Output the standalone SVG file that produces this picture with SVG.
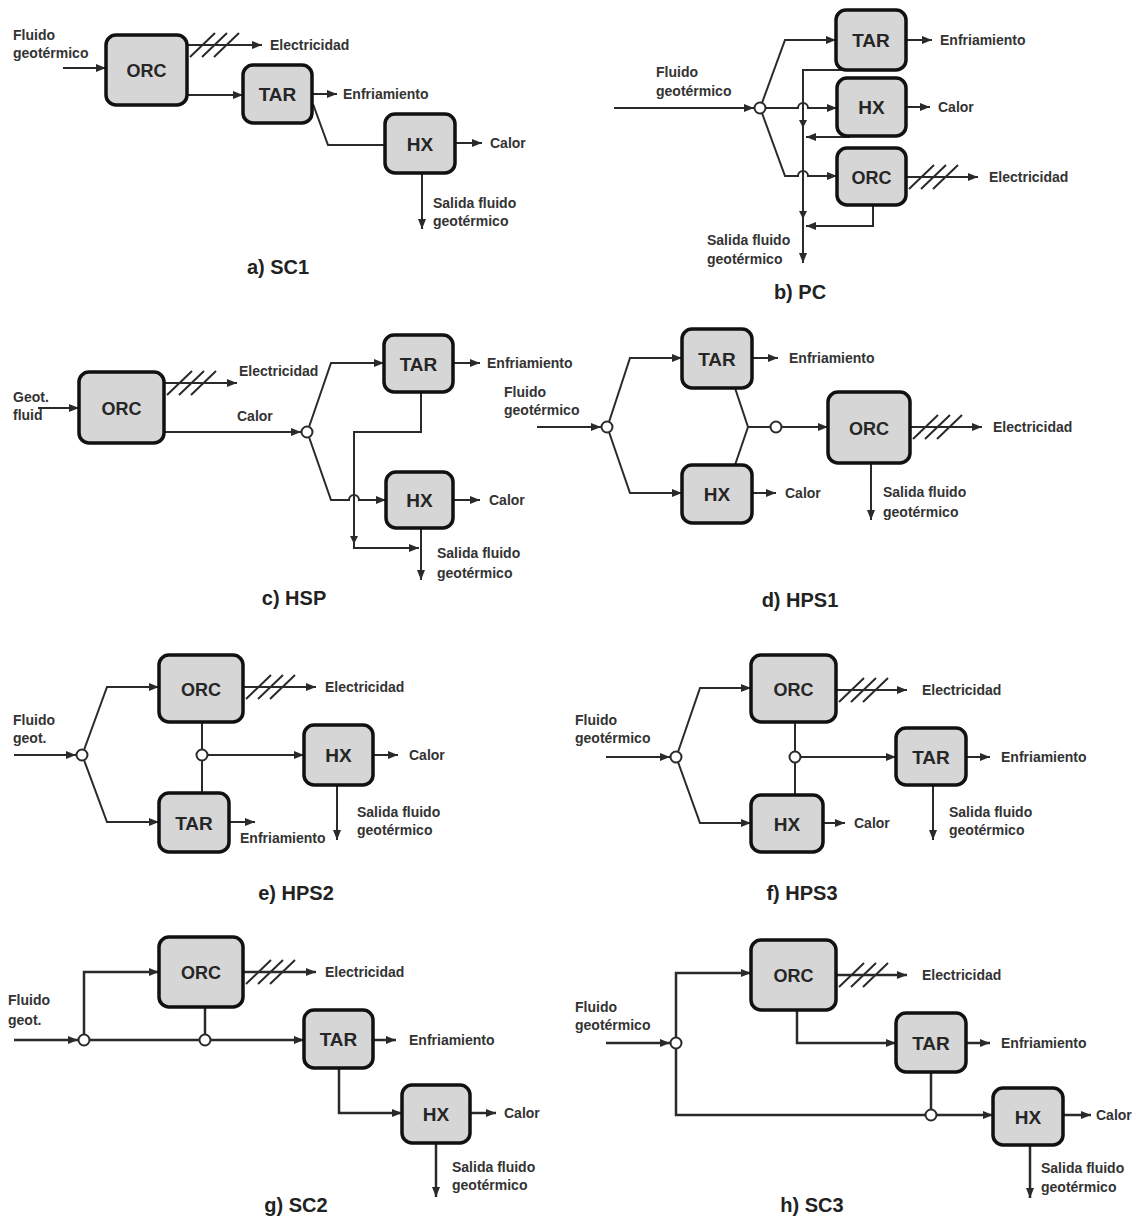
<svg xmlns="http://www.w3.org/2000/svg" xmlns:xlink="http://www.w3.org/1999/xlink" width="1136" height="1220" viewBox="0 0 1136 1220">
<style>
.box{fill:#d6d6d6;stroke:#111;stroke-width:3.5}
.bl{font-family:"Liberation Sans",Arial,sans-serif;font-size:19px;font-weight:bold;fill:#262626;text-anchor:middle}
.t{font-family:"Liberation Sans",Arial,sans-serif;font-size:14px;font-weight:bold;fill:#333}
.cap{font-family:"Liberation Sans",Arial,sans-serif;font-size:20px;font-weight:bold;fill:#222;text-anchor:middle}
.ln{fill:none;stroke:#2a2a2a;stroke-width:2}
.ar{fill:none;stroke:#2a2a2a;stroke-width:2;marker-end:url(#ah)}
.jn{fill:#fff;stroke:#2a2a2a;stroke-width:2}
.hatch{fill:none;stroke:#2a2a2a;stroke-width:2}
.tick{fill:#2a2a2a}
.thick .ln,.thick .ar{stroke-width:2.5}
</style>
<defs>
<marker id="ah" viewBox="0 0 10 8" refX="10" refY="4" markerWidth="10" markerHeight="8" orient="auto" markerUnits="userSpaceOnUse"><path d="M0,0 L10,4 L0,8 z" fill="#2a2a2a"/></marker>
<path id="hatch" class="hatch" d="M0,12 L25,-12 M12,12 L37,-12 M24,12 L49,-12"/>
</defs>
<rect width="1136" height="1220" fill="#fff"/>

<!-- ===== a) SC1 ===== -->
<g id="panel-a">
<g id="a-connectors">
<path class="ar" d="M63,68 L106,68"/>
<path class="ar" d="M187,45 L262,45"/>
<use href="#hatch" x="190" y="45"/>
<path class="ar" d="M187,95 L243,95"/>
<path class="ar" d="M312,94 L337,94"/>
<path class="ln" d="M313,104 L328,145 L385,145"/>
<path class="ar" d="M455,143 L482,143"/>
<path class="ar" d="M422,173 L422,229"/>
</g>
<g id="a-orc"><rect class="box" x="106" y="35" width="81" height="70" rx="10"/><text class="bl" x="146.5" y="77" textLength="40" lengthAdjust="spacingAndGlyphs">ORC</text></g>
<g id="a-tar"><rect class="box" x="243" y="65" width="69" height="58" rx="10"/><text class="bl" x="277.5" y="101">TAR</text></g>
<g id="a-hx"><rect class="box" x="385" y="114" width="70" height="59" rx="10"/><text class="bl" x="420" y="150.5">HX</text></g>
<text class="t" x="13" y="40">Fluido</text>
<text class="t" x="13" y="58">geotérmico</text>
<text class="t" x="270" y="50">Electricidad</text>
<text class="t" x="343" y="99">Enfriamiento</text>
<text class="t" x="490" y="148">Calor</text>
<text class="t" x="433" y="208">Salida fluido</text>
<text class="t" x="433" y="226">geotérmico</text>
<text class="cap" x="278" y="274">a) SC1</text>
</g>

<!-- ===== b) PC ===== -->
<g id="panel-b">
<g id="b-connectors">
<path class="ar" d="M614,108 L754,108"/>
<path class="ar" d="M762,103 L785,40 L836,40"/>
<path class="ar" d="M766,108 L798,108 A5,5 0 0 1 808,108 L837,108"/>
<path class="ar" d="M762,113 L785,176 L798,176 A5,5 0 0 1 808,176 L837,176"/>
<path class="ar" d="M906,40 L932,40"/>
<path class="ar" d="M906,107 L930,107"/>
<path class="ar" d="M906,177 L978,177"/>
<use href="#hatch" x="909" y="177"/>
<path class="ar" d="M850,70 L803,70 L803,263"/>
<path class="tick" d="M799,120 L807,120 L803,128 z"/>
<path class="tick" d="M799,211 L807,211 L803,219 z"/>
<path class="ar" d="M850,137 L806,137"/>
<path class="ar" d="M873,205 L873,226 L806,226"/>
<circle class="jn" cx="760" cy="108" r="5.5"/>
</g>
<g id="b-tar"><rect class="box" x="836" y="10" width="70" height="60" rx="10"/><text class="bl" x="871" y="47">TAR</text></g>
<g id="b-hx"><rect class="box" x="837" y="78" width="69" height="58" rx="10"/><text class="bl" x="871.5" y="114">HX</text></g>
<g id="b-orc"><rect class="box" x="837" y="148" width="69" height="57" rx="10"/><text class="bl" x="871.5" y="183.5" textLength="40" lengthAdjust="spacingAndGlyphs">ORC</text></g>
<text class="t" x="656" y="77">Fluido</text>
<text class="t" x="656" y="96">geotérmico</text>
<text class="t" x="940" y="45">Enfriamiento</text>
<text class="t" x="938" y="112">Calor</text>
<text class="t" x="989" y="182">Electricidad</text>
<text class="t" x="707" y="245">Salida fluido</text>
<text class="t" x="707" y="264">geotérmico</text>
<text class="cap" x="800" y="299">b) PC</text>
</g>

<!-- ===== c) HSP ===== -->
<g id="panel-c">
<g id="c-connectors">
<path class="ar" d="M38,408 L79,408"/>
<path class="ar" d="M164,383 L237,383"/>
<use href="#hatch" x="167" y="383"/>
<path class="ar" d="M164,432 L301,432"/>
<path class="ar" d="M309,427 L331,363 L384,363"/>
<path class="ar" d="M309,437 L331,500 L349,500 A5,5 0 0 1 359,500 L386,500"/>
<path class="ar" d="M453,363 L480,363"/>
<path class="ar" d="M453,500 L480,500"/>
<path class="ar" d="M421,392 L421,432 L354,432 L354,548 L419,548"/>
<path class="tick" d="M350,536 L358,536 L354,544 z"/>
<path class="ar" d="M421,528 L421,580"/>
<circle class="jn" cx="307" cy="432" r="5.5"/>
</g>
<g id="c-orc"><rect class="box" x="79" y="372" width="85" height="71" rx="10"/><text class="bl" x="121.5" y="414.5" textLength="40" lengthAdjust="spacingAndGlyphs">ORC</text></g>
<g id="c-tar"><rect class="box" x="384" y="335" width="69" height="57" rx="10"/><text class="bl" x="418.5" y="370.5">TAR</text></g>
<g id="c-hx"><rect class="box" x="386" y="472" width="67" height="56" rx="10"/><text class="bl" x="419.5" y="507">HX</text></g>
<text class="t" x="13" y="402">Geot.</text>
<text class="t" x="13" y="420">fluid</text>
<text class="t" x="239" y="376">Electricidad</text>
<text class="t" x="237" y="421">Calor</text>
<text class="t" x="487" y="368">Enfriamiento</text>
<text class="t" x="489" y="505">Calor</text>
<text class="t" x="437" y="558">Salida fluido</text>
<text class="t" x="437" y="578">geotérmico</text>
<text class="cap" x="294" y="605">c) HSP</text>
</g>

<!-- ===== d) HPS1 ===== -->
<g id="panel-d">
<g id="d-connectors">
<path class="ar" d="M537,427 L601,427"/>
<path class="ar" d="M609,422 L630,358 L682,358"/>
<path class="ar" d="M609,432 L630,493 L682,493"/>
<path class="ar" d="M752,358 L778,358"/>
<path class="ar" d="M752,493 L776,493"/>
<path class="ln" d="M735,388 L748,427 L735,465 M748,427 L771,427"/>
<path class="ar" d="M781,427 L828,427"/>
<path class="ar" d="M910,427 L982,427"/>
<use href="#hatch" x="913" y="427"/>
<path class="ar" d="M871,463 L871,520"/>
<circle class="jn" cx="607" cy="427" r="5.5"/>
<circle class="jn" cx="776" cy="427" r="5.5"/>
</g>
<g id="d-tar"><rect class="box" x="682" y="329" width="70" height="59" rx="10"/><text class="bl" x="717" y="365.5">TAR</text></g>
<g id="d-hx"><rect class="box" x="682" y="465" width="70" height="58" rx="10"/><text class="bl" x="717" y="501">HX</text></g>
<g id="d-orc"><rect class="box" x="828" y="392" width="82" height="71" rx="10"/><text class="bl" x="869" y="434.5" textLength="40" lengthAdjust="spacingAndGlyphs">ORC</text></g>
<text class="t" x="504" y="397">Fluido</text>
<text class="t" x="504" y="415">geotérmico</text>
<text class="t" x="789" y="363">Enfriamiento</text>
<text class="t" x="785" y="498">Calor</text>
<text class="t" x="993" y="432">Electricidad</text>
<text class="t" x="883" y="497">Salida fluido</text>
<text class="t" x="883" y="517">geotérmico</text>
<text class="cap" x="800" y="607">d) HPS1</text>
</g>

<!-- ===== e) HPS2 ===== -->
<g id="panel-e">
<g id="e-connectors">
<path class="ar" d="M14,755 L76,755"/>
<path class="ar" d="M84,750 L107,687 L159,687"/>
<path class="ar" d="M84,760 L107,822 L159,822"/>
<path class="ar" d="M243,687 L316,687"/>
<use href="#hatch" x="246" y="687"/>
<path class="ln" d="M202,722 L202,750 M202,760 L202,793"/>
<path class="ar" d="M207,755 L304,755"/>
<path class="ar" d="M229,822 L255,822"/>
<path class="ar" d="M373,755 L398,755"/>
<path class="ar" d="M337,785 L337,840"/>
<circle class="jn" cx="82" cy="755" r="5.5"/>
<circle class="jn" cx="202" cy="755" r="5.5"/>
</g>
<g id="e-orc"><rect class="box" x="159" y="655" width="84" height="67" rx="10"/><text class="bl" x="201" y="695.5" textLength="40" lengthAdjust="spacingAndGlyphs">ORC</text></g>
<g id="e-tar"><rect class="box" x="159" y="793" width="70" height="59" rx="10"/><text class="bl" x="194" y="829.5">TAR</text></g>
<g id="e-hx"><rect class="box" x="304" y="725" width="69" height="60" rx="10"/><text class="bl" x="338.5" y="762">HX</text></g>
<text class="t" x="13" y="725">Fluido</text>
<text class="t" x="13" y="743">geot.</text>
<text class="t" x="325" y="692">Electricidad</text>
<text class="t" x="240" y="843">Enfriamiento</text>
<text class="t" x="409" y="760">Calor</text>
<text class="t" x="357" y="817">Salida fluido</text>
<text class="t" x="357" y="835">geotérmico</text>
<text class="cap" x="296" y="900">e) HPS2</text>
</g>

<!-- ===== f) HPS3 ===== -->
<g id="panel-f">
<g id="f-connectors">
<path class="ar" d="M606,757 L670,757"/>
<path class="ar" d="M678,752 L700,688 L751,688"/>
<path class="ar" d="M678,762 L700,823 L751,823"/>
<path class="ar" d="M836,690 L907,690"/>
<use href="#hatch" x="839" y="690"/>
<path class="ln" d="M795,722 L795,752 M795,762 L795,795"/>
<path class="ar" d="M800,757 L896,757"/>
<path class="ar" d="M966,757 L990,757"/>
<path class="ar" d="M823,823 L845,823"/>
<path class="ar" d="M933,785 L933,840"/>
<circle class="jn" cx="676" cy="757" r="5.5"/>
<circle class="jn" cx="795" cy="757" r="5.5"/>
</g>
<g id="f-orc"><rect class="box" x="751" y="655" width="85" height="67" rx="10"/><text class="bl" x="793.5" y="695.5" textLength="40" lengthAdjust="spacingAndGlyphs">ORC</text></g>
<g id="f-hx"><rect class="box" x="751" y="795" width="72" height="57" rx="10"/><text class="bl" x="787" y="830.5">HX</text></g>
<g id="f-tar"><rect class="box" x="896" y="728" width="70" height="57" rx="10"/><text class="bl" x="931" y="763.5">TAR</text></g>
<text class="t" x="575" y="725">Fluido</text>
<text class="t" x="575" y="743">geotérmico</text>
<text class="t" x="922" y="695">Electricidad</text>
<text class="t" x="1001" y="762">Enfriamiento</text>
<text class="t" x="854" y="828">Calor</text>
<text class="t" x="949" y="817">Salida fluido</text>
<text class="t" x="949" y="835">geotérmico</text>
<text class="cap" x="802" y="900">f) HPS3</text>
</g>

<!-- ===== g) SC2 ===== -->
<g id="panel-g" class="thick">
<g id="g-connectors">
<path class="ar" d="M14,1040 L78,1040"/>
<path class="ar" d="M84,1034 L84,972 L159,972"/>
<path class="ln" d="M90,1040 L199,1040"/>
<path class="ar" d="M211,1040 L304,1040"/>
<path class="ln" d="M205,1007 L205,1034"/>
<path class="ar" d="M243,972 L316,972"/>
<use href="#hatch" x="246" y="972"/>
<path class="ar" d="M373,1040 L396,1040"/>
<path class="ar" d="M339,1068 L339,1113 L402,1113"/>
<path class="ar" d="M470,1113 L496,1113"/>
<path class="ar" d="M436,1143 L436,1197"/>
<circle class="jn" cx="84" cy="1040" r="5.5"/>
<circle class="jn" cx="205" cy="1040" r="5.5"/>
</g>
<g id="g-orc"><rect class="box" x="159" y="937" width="84" height="70" rx="10"/><text class="bl" x="201" y="979" textLength="40" lengthAdjust="spacingAndGlyphs">ORC</text></g>
<g id="g-tar"><rect class="box" x="304" y="1010" width="69" height="58" rx="10"/><text class="bl" x="338.5" y="1046">TAR</text></g>
<g id="g-hx"><rect class="box" x="402" y="1085" width="68" height="58" rx="10"/><text class="bl" x="436" y="1121">HX</text></g>
<text class="t" x="8" y="1005">Fluido</text>
<text class="t" x="8" y="1025">geot.</text>
<text class="t" x="325" y="977">Electricidad</text>
<text class="t" x="409" y="1045">Enfriamiento</text>
<text class="t" x="504" y="1118">Calor</text>
<text class="t" x="452" y="1172">Salida fluido</text>
<text class="t" x="452" y="1190">geotérmico</text>
<text class="cap" x="296" y="1212">g) SC2</text>
</g>

<!-- ===== h) SC3 ===== -->
<g id="panel-h" class="thick">
<g id="h-connectors">
<path class="ar" d="M606,1043 L670,1043"/>
<path class="ar" d="M676,1037 L676,973 L751,973"/>
<path class="ln" d="M676,1049 L676,1115 L925,1115"/>
<path class="ar" d="M937,1115 L993,1115"/>
<path class="ar" d="M836,975 L907,975"/>
<use href="#hatch" x="839" y="975"/>
<path class="ar" d="M797,1010 L797,1043 L896,1043"/>
<path class="ar" d="M966,1043 L990,1043"/>
<path class="ln" d="M931,1072 L931,1109"/>
<path class="ar" d="M1063,1115 L1091,1115"/>
<path class="ar" d="M1030,1145 L1030,1198"/>
<circle class="jn" cx="676" cy="1043" r="5.5"/>
<circle class="jn" cx="931" cy="1115" r="5.5"/>
</g>
<g id="h-orc"><rect class="box" x="751" y="940" width="85" height="70" rx="10"/><text class="bl" x="793.5" y="982" textLength="40" lengthAdjust="spacingAndGlyphs">ORC</text></g>
<g id="h-tar"><rect class="box" x="896" y="1013" width="70" height="59" rx="10"/><text class="bl" x="931" y="1049.5">TAR</text></g>
<g id="h-hx"><rect class="box" x="993" y="1088" width="70" height="57" rx="10"/><text class="bl" x="1028" y="1123.5">HX</text></g>
<text class="t" x="575" y="1012">Fluido</text>
<text class="t" x="575" y="1030">geotérmico</text>
<text class="t" x="922" y="980">Electricidad</text>
<text class="t" x="1001" y="1048">Enfriamiento</text>
<text class="t" x="1096" y="1120">Calor</text>
<text class="t" x="1041" y="1173">Salida fluido</text>
<text class="t" x="1041" y="1192">geotérmico</text>
<text class="cap" x="812" y="1212">h) SC3</text>
</g>
</svg>
